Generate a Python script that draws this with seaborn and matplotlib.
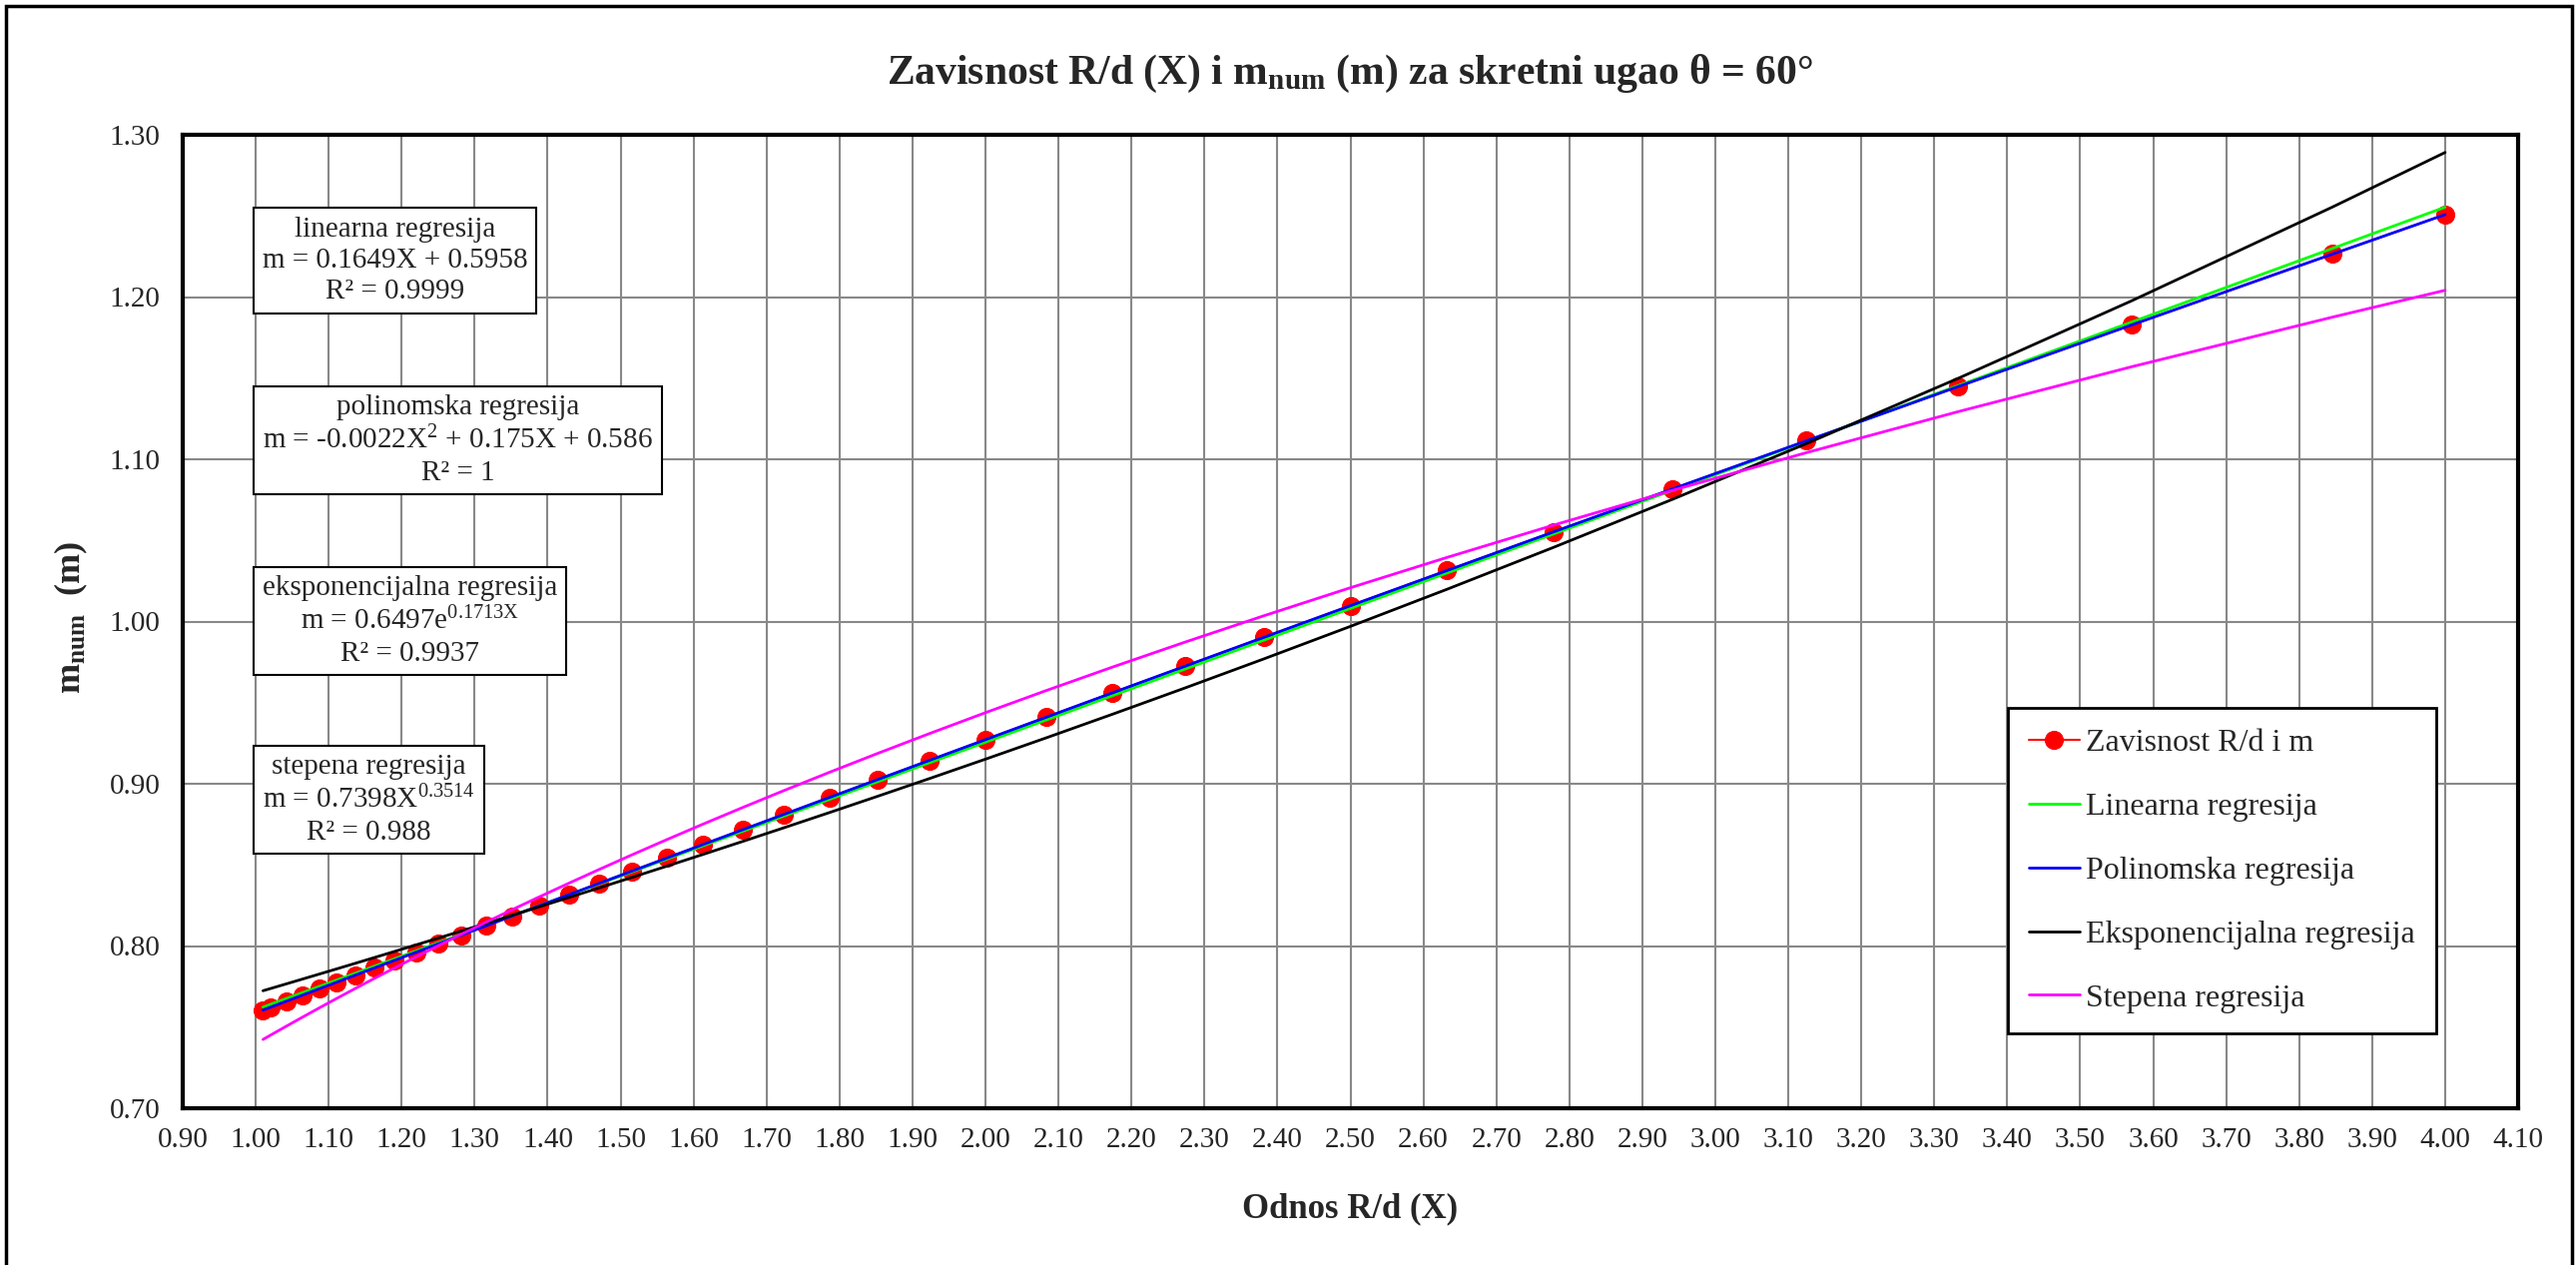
import matplotlib.pyplot as plt
import seaborn as sns
import numpy as np
from matplotlib.patches import Rectangle
from matplotlib.ticker import MultipleLocator, FormatStrFormatter


# Podaci ocitani sa grafika: odnos R/d (X) i m_num (m)
odnos_rd = [1.010, 1.020, 1.042, 1.064, 1.087, 1.111, 1.136, 1.163, 1.190, 1.220,
            1.250, 1.282, 1.316, 1.351, 1.389, 1.429, 1.471, 1.515, 1.563, 1.613,
            1.667, 1.724, 1.786, 1.852, 1.923, 2.000, 2.083, 2.174, 2.273, 2.381,
            2.500, 2.632, 2.778, 2.941, 3.125, 3.333, 3.571, 3.846, 4.000]
m_num = [0.7605, 0.7622, 0.7660, 0.7697, 0.7736, 0.7777, 0.7820, 0.7865, 0.7911, 0.7962,
         0.8013, 0.8067, 0.8125, 0.8184, 0.8248, 0.8316, 0.8387, 0.8461, 0.8542, 0.8626,
         0.8716, 0.8812, 0.8915, 0.9026, 0.9144, 0.9272, 0.9410, 0.9561, 0.9724, 0.9902,
         1.0098, 1.0314, 1.0552, 1.0816, 1.1114, 1.1448, 1.1829, 1.2265, 1.2508]

# koeficijenti regresija (iz jednacina na grafiku)
lin_coef = [0.1649, 0.5958]
pol_coef = [-0.0022, 0.175, 0.586]
exp_coef = [0.6497, 0.1713]
pow_coef = [0.7398, 0.3514]

sns.set_style("white")
plt.rcParams['font.family'] = ['Liberation Serif', 'DejaVu Serif']
plt.rcParams['mathtext.fontset'] = 'custom'
plt.rcParams['mathtext.rm'] = 'Liberation Serif'
plt.rcParams['mathtext.it'] = 'Liberation Serif:italic'
plt.rcParams['mathtext.bf'] = 'Liberation Serif:bold'

fig = plt.figure(figsize=(25.8, 12.67), dpi=100)
ax = fig.add_axes([183 / 2580, 1 - 1110 / 1267, 2339 / 2580, 975 / 1267])

x = np.array(odnos_rd)
sns.lineplot(x=odnos_rd, y=m_num, color='red', marker='o', markersize=13,
             markeredgecolor='red', linewidth=1.5, label='Zavisnost R/d i m', ax=ax, zorder=2)
sns.lineplot(x=x, y=np.polyval(lin_coef, x), color='#00ff00', linewidth=2,
             label='Linearna regresija', ax=ax, zorder=3)
sns.lineplot(x=x, y=np.polyval(pol_coef, x), color='#0000ff', linewidth=2,
             label='Polinomska regresija', ax=ax, zorder=4)
sns.lineplot(x=x, y=exp_coef[0] * np.exp(exp_coef[1] * x), color='black', linewidth=2,
             label='Eksponencijalna regresija', ax=ax, zorder=5)
sns.lineplot(x=x, y=pow_coef[0] * x ** pow_coef[1], color='#ff00ff', linewidth=2,
             label='Stepena regresija', ax=ax, zorder=6)

# ose
ax.set_xlim(0.9, 4.1)
ax.set_ylim(0.7, 1.3)
ax.xaxis.set_major_locator(MultipleLocator(0.1))
ax.yaxis.set_major_locator(MultipleLocator(0.1))
ax.xaxis.set_major_formatter(FormatStrFormatter('%.2f'))
ax.yaxis.set_major_formatter(FormatStrFormatter('%.2f'))
ax.grid(True, color='#888888', linewidth=1.5)
ax.set_axisbelow(True)
for s in ax.spines.values():
    s.set_linewidth(3)
    s.set_color('black')
ax.tick_params(direction='out', length=6, width=2.5, labelsize=21, color='black')
ax.tick_params(axis='x', pad=8)
ax.tick_params(axis='y', pad=10)
ax.set_xlabel('')
ax.set_ylabel('')

fig.text(1352 / 2580, 1 - 74 / 1267, r'Zavisnost R/d (X) i m$_{\mathbf{num}}$ (m) za skretni ugao θ = 60°',
         ha='center', va='center', fontsize=30, fontweight='bold')
fig.text(1352 / 2580, 1 - 1211 / 1267, 'Odnos R/d (X)', ha='center', va='center',
         fontsize=25, fontweight='bold')
fig.text(71 / 2580, 1 - 618 / 1267, r'm$_{\mathbf{num}}$  (m)', ha='center', va='center',
         rotation=90, fontsize=26, fontweight='bold')

# okviri sa jednacinama
box = dict(boxstyle='square,pad=0.3', facecolor='white', edgecolor='black', linewidth=1.5)
tekstovi = [
    ('linearna regresija\nm = 0.1649X + 0.5958\nR² = 0.9999', 261),
    ('polinomska regresija\nm = -0.0022X$^{\\mathrm{2}}$ + 0.175X + 0.586\nR² = 1', 441),
    ('eksponencijalna regresija\nm = 0.6497e$^{\\mathrm{0.1713X}}$\nR² = 0.9937', 622),
    ('stepena regresija\nm = 0.7398X$^{\\mathrm{0.3514}}$\nR² = 0.988', 801),
]
for t, yc in tekstovi:
    ax.text((263 - 183) / 2339, (1110 - yc) / 975, t, transform=ax.transAxes,
            ha='left', va='center', multialignment='center', fontsize=21,
            linespacing=1.25, bbox=box, zorder=10)

leg = ax.legend(loc='upper left', bbox_to_anchor=(2011 / 2580, 1 - 709 / 1267),
                bbox_transform=fig.transFigure, borderaxespad=0, frameon=True,
                fancybox=False, edgecolor='black', framealpha=1, fontsize=23,
                handlelength=1.6, handletextpad=0.2, labelspacing=1.08, borderpad=0.65)
leg.get_frame().set_linewidth(2)

# okvir oko cele slike
fig.patches.append(Rectangle((0.0023, -0.05), 0.9961, 1.0453, transform=fig.transFigure,
                             fill=False, edgecolor='black', linewidth=2.5))

fig.savefig('out.png', dpi=100)
